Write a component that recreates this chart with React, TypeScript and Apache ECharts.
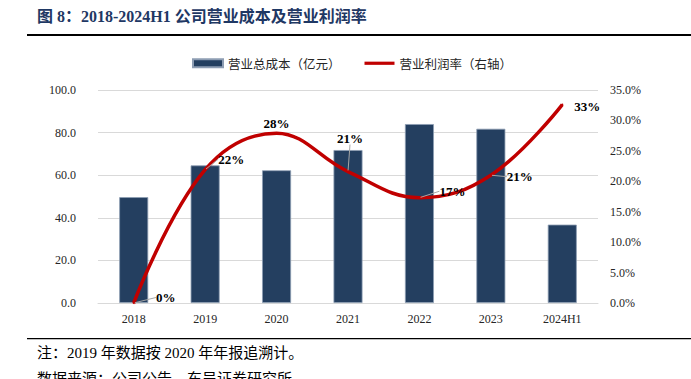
import React, { useEffect, useRef } from "react";
import * as echarts from "echarts";

const categories = ["2018", "2019", "2020", "2021", "2022", "2023", "2024H1"];
const costValues = [49.7, 64.6, 62.3, 71.8, 84.0, 81.8, 36.8];
const marginValues = [0.0, 21.9, 27.9, 21.6, 17.3, 21.0, 32.6];
const marginLabels = ["0%", "22%", "28%", "21%", "17%", "21%", "33%"];
const labelShift = [
  [32, 7],
  [26, 2],
  [0, 3],
  [2, -21],
  [33, 6],
  [29, 14],
  [25, 14],
];
const showLeader = [true, true, false, true, true, true, false];

const SERIF = "'Liberation Serif', 'Times New Roman', 'Noto Sans CJK SC', serif";

export default function App() {
  const ref = useRef<HTMLDivElement>(null);
  useEffect(() => {
    if (!ref.current) return;
    const chart = echarts.init(ref.current, undefined, { renderer: "svg" });
    chart.setOption({
      animation: false,
      backgroundColor: "#ffffff",
      graphic: [
        {
          type: "text",
          left: 37,
          top: 8,
          style: {
            text: "图 8：2018-2024H1 公司营业成本及营业利润率",
            font: "bold 16px " + SERIF,
            fill: "#1f3864",
          },
        },
        {
          type: "rect",
          shape: { x: 27, y: 34, width: 664, height: 2 },
          style: { fill: "#000000" },
        },
        {
          type: "rect",
          shape: { x: 27, y: 338, width: 664, height: 1.2 },
          style: { fill: "#000000" },
        },
        {
          type: "text",
          left: 37,
          top: 345,
          style: {
            text: "注：2019 年数据按 2020 年年报追溯计。",
            font: "15px " + SERIF,
            fill: "#000000",
          },
        },
        {
          type: "text",
          left: 37,
          top: 371,
          style: {
            text: "数据来源：公司公告，东吴证券研究所",
            font: "15px " + SERIF,
            fill: "#000000",
          },
        },
      ],
      legend: {
        top: 52,
        left: 187,
        itemWidth: 30,
        itemHeight: 8,
        itemGap: 24,
        symbolKeepAspect: true,
        textStyle: { fontSize: 12.5, color: "#262626", fontFamily: "'Noto Sans CJK SC', sans-serif" },
        data: [
          { name: "营业总成本（亿元）", icon: "rect" },
          { name: "营业利润率（右轴）", icon: "path://M0,0h30v3.2h-30z" },
        ],
      },
      grid: { left: 98, right: 93, top: 90, bottom: 76, containLabel: false },
      xAxis: {
        type: "category",
        data: categories,
        axisLine: { show: true, lineStyle: { color: "#d9d9d9" } },
        axisTick: { show: false },
        axisLabel: { color: "#262626", fontSize: 12, fontFamily: SERIF, margin: 10 },
      },
      yAxis: [
        {
          type: "value",
          min: 0,
          max: 100,
          interval: 20,
          axisLine: { show: false },
          axisTick: { show: false },
          splitLine: { lineStyle: { color: "#d9d9d9", width: 1 } },
          axisLabel: {
            color: "#262626",
            fontSize: 12,
            fontFamily: SERIF,
            margin: 22,
            formatter: (v: number) => v.toFixed(1),
          },
        },
        {
          type: "value",
          min: 0,
          max: 35,
          interval: 5,
          position: "right",
          axisLine: { show: false },
          axisTick: { show: false },
          splitLine: { show: false },
          axisLabel: {
            color: "#262626",
            fontSize: 12,
            fontFamily: SERIF,
            margin: 12,
            formatter: (v: number) => v.toFixed(1) + "%",
          },
        },
      ],
      series: [
        {
          name: "营业总成本（亿元）",
          type: "bar",
          data: costValues,
          barWidth: 29,
          itemStyle: { color: "#243f60", borderColor: "#8d9db3", borderWidth: 0.8 },
        },
        {
          name: "营业利润率（右轴）",
          type: "line",
          yAxisIndex: 1,
          smooth: 0.4,
          symbol: "circle",
          symbolSize: 2,
          itemStyle: { color: "#c00000" },
          lineStyle: { color: "#c00000", width: 3.5 },
          data: marginValues.map((v, i) => ({
            value: v,
            labelLine: { show: showLeader[i] },
          })),
          label: {
            show: true,
            position: "top",
            fontFamily: SERIF,
            fontWeight: "bold",
            fontSize: 13,
            color: "#000000",
            formatter: (p: any) => marginLabels[p.dataIndex],
          },
          labelLine: { show: true, lineStyle: { color: "#a6a6a6", width: 1 } },
          labelLayout: (p: any) => ({
            dx: labelShift[p.dataIndex][0],
            dy: labelShift[p.dataIndex][1],
          }),
          z: 5,
        },
      ],
    });
    return () => chart.dispose();
  }, []);
  return <div ref={ref} style={{ width: 691, height: 379, position: "absolute", left: 0, top: 0 }} />;
}
